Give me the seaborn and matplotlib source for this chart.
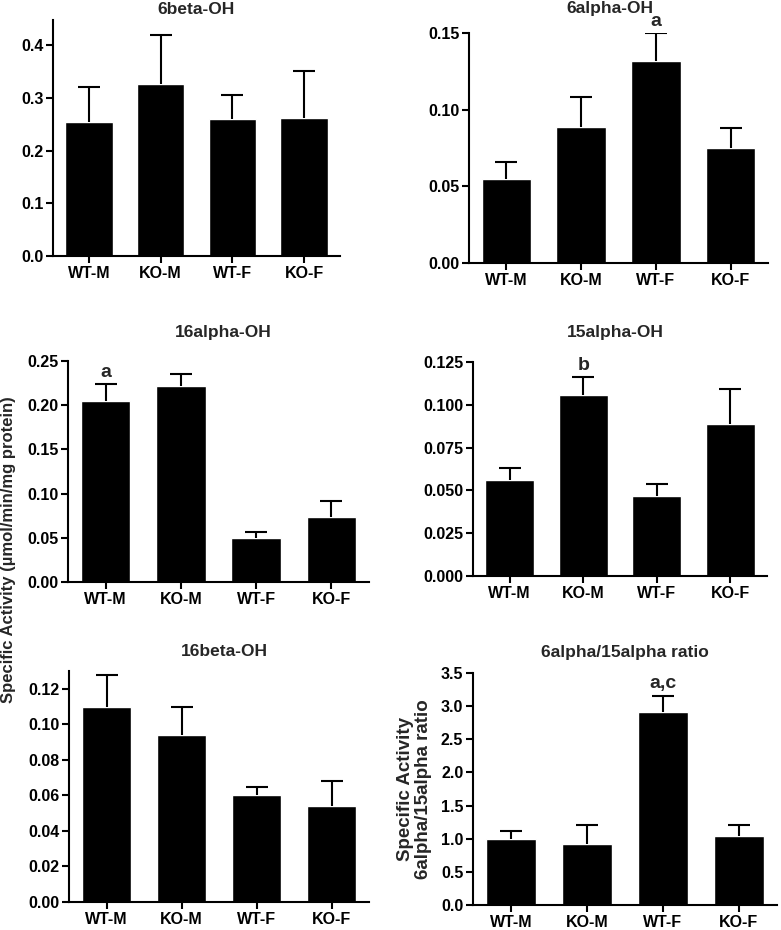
import numpy as np
import pandas as pd
import matplotlib
matplotlib.use("Agg")
import matplotlib.pyplot as plt
import seaborn as sns

sns.set_theme(style="ticks")
plt.rcParams["font.family"] = ["Liberation Sans", "DejaVu Sans"]
plt.rcParams["font.weight"] = "bold"

# Groups
groups = ["WT-M", "KO-M", "WT-F", "KO-F"]

# Means and upper error bar ends for each panel
beta6_mean = [0.255, 0.327, 0.260, 0.262]
beta6_top = [0.320, 0.419, 0.305, 0.352]

alpha6_mean = [0.055, 0.089, 0.132, 0.075]
alpha6_top = [0.066, 0.108, 0.150, 0.088]

alpha16_mean = [0.205, 0.222, 0.050, 0.073]
alpha16_top = [0.224, 0.235, 0.057, 0.092]

alpha15_mean = [0.056, 0.106, 0.047, 0.089]
alpha15_top = [0.063, 0.116, 0.054, 0.109]

beta16_mean = [0.110, 0.094, 0.060, 0.054]
beta16_top = [0.128, 0.110, 0.065, 0.068]

ratio_mean = [0.99, 0.92, 2.91, 1.04]
ratio_top = [1.11, 1.21, 3.16, 1.20]

panels = [
    # title, mean, top, ymax, yticks, tick format, letter, letter index
    ("6beta-OH", beta6_mean, beta6_top, 0.448, np.arange(0, 0.41, 0.1), "{:.1f}", None, None),
    ("6alpha-OH", alpha6_mean, alpha6_top, 0.15, np.arange(0, 0.151, 0.05), "{:.2f}", "a", 2),
    ("16alpha-OH", alpha16_mean, alpha16_top, 0.25, np.arange(0, 0.251, 0.05), "{:.2f}", "a", 0),
    ("15alpha-OH", alpha15_mean, alpha15_top, 0.125, np.arange(0, 0.1251, 0.025), "{:.3f}", "b", 1),
    ("16beta-OH", beta16_mean, beta16_top, 0.130, np.arange(0, 0.121, 0.02), "{:.2f}", None, None),
    ("6alpha/15alpha ratio", ratio_mean, ratio_top, 3.5, np.arange(0, 3.51, 0.5), "{:.1f}", "a,c", 2),
]

# axes boxes in pixels: left, right, top, bottom ; title centre x, y
W, H = 781, 930
boxes = [
    (53, 340, 20, 256, 196, 9),
    (469, 768, 33, 263, 610, 9),
    (68, 369, 361, 582, 223, 332),
    (473, 767, 362, 576, 615, 332),
    (69, 369, 671, 902, 224, 652),
    (473, 777, 673, 905, 625, 652),
]

fig = plt.figure(figsize=(W / 100, H / 100), dpi=100)

for (title, mean, top, ymax, yticks, fmt, letter, li), (l, r, t, b, tx, ty) in zip(panels, boxes):
    ax = fig.add_axes([l / W, 1 - b / H, (r - l) / W, (b - t) / H])
    df = pd.DataFrame({"group": groups, "value": mean})
    sns.barplot(data=df, x="group", y="value", color="black", width=0.66,
                saturation=1, errorbar=None, ax=ax)
    x = np.arange(len(groups))
    m = np.array(mean)
    up = np.array(top) - m
    eb = ax.errorbar(x, m, yerr=[np.zeros_like(up), up], fmt="none", ecolor="black",
                     elinewidth=1.5, capsize=8, capthick=1.5)
    eb[1][0].set_visible(False)  # no cap at the bar top
    ax.set_xlim(-0.5, 3.5)
    ax.set_ylim(0, ymax)
    ax.set_yticks(yticks)
    ax.set_yticklabels([fmt.format(v) for v in yticks], fontsize=11.5, fontweight="bold")
    ax.set_xticks(x)
    ax.set_xticklabels(groups, fontsize=11.5, fontweight="bold")
    ax.set_xlabel("")
    ax.set_ylabel("")
    fig.text(tx / W, 1 - ty / H, title, ha="center", va="center",
             fontsize=12.5, fontweight="bold")
    sns.despine(ax=ax)
    for s in ["left", "bottom"]:
        ax.spines[s].set_linewidth(1.5)
        ax.spines[s].set_color("black")
    ax.tick_params(axis="both", length=5, width=1.5, colors="black", pad=2)
    if letter:
        ax.text(li, top[li] + ymax * 0.015, letter, ha="center", va="bottom",
                fontsize=14, fontweight="bold")
    if title.startswith("6alpha/15alpha"):
        ax.set_ylabel("Specific Activity\n6alpha/15alpha ratio", fontsize=13.5,
                      fontweight="bold", labelpad=6, linespacing=1.1)

fig.text(9 / W, 1 - 550 / H, "Specific Activity (\u00b5mol/min/mg protein)",
         rotation=90, ha="center", va="center", fontsize=12, fontweight="bold")

fig.savefig("out.png", dpi=100)
